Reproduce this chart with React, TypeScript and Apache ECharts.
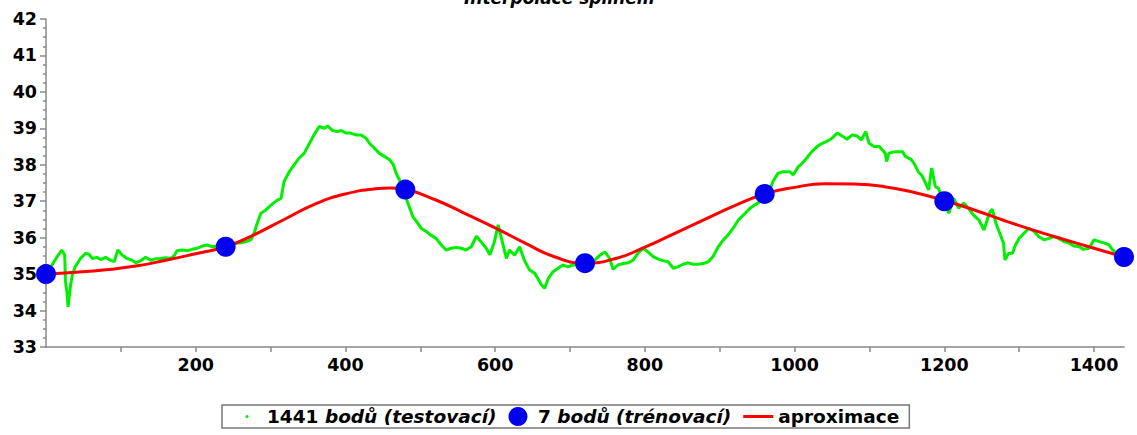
import React, { useEffect, useRef } from "react";
import * as echarts from "echarts";

const FONT = "'DejaVu Sans', 'Liberation Sans', Arial, sans-serif";

const titleText = "Interpolace splinem";
const testName = "1441 bodů (testovací)";
const trainName = "7 bodů (trénovací)";
const approxName = "aproximace";

const xTickValues = [100, 200, 300, 400, 500, 600, 700, 800, 900, 1000, 1100, 1200, 1300, 1400];
const xLabelValues = [200, 400, 600, 800, 1000, 1200, 1400];

// test data (green)
const testX = [
  3, 8, 14, 21, 25, 26, 28, 29.5, 32.6, 35, 39, 46, 53, 57, 62, 68, 73, 79.5, 86, 91,
  96, 102, 108, 115, 120, 126, 133, 140, 146, 153, 160, 166.5, 171, 175, 182, 189, 195, 202, 209, 215,
  222, 230, 240, 247, 253, 260, 267, 273.5, 278, 282, 287, 293.6, 302, 309, 314, 318, 325, 331.5, 338, 345,
  352, 358, 365, 372, 376, 383, 389.5, 394, 401, 407, 414, 421, 427.5, 432, 438.5, 445, 452, 459, 464, 467.6,
  472, 477, 481, 485, 490, 496.5, 501, 508, 514, 521, 528, 534.5, 541, 548, 555, 561, 568, 575, 581, 588,
  593, 599, 604, 610, 615, 619, 626, 632.6, 639, 646, 653, 657, 662, 666, 671, 677, 684, 690.6, 697, 704,
  712, 720, 727, 733, 740, 746.5, 753, 757.5, 764, 771, 778, 784, 791, 798, 804, 811, 818, 824, 831, 838,
  844, 851, 858, 864.5, 871, 878, 884.6, 891, 898, 904.7, 911, 918, 925, 934, 940.5, 947, 954, 960, 967, 971,
  978, 985, 994, 998, 1005, 1010, 1016, 1023, 1030, 1037, 1043, 1050, 1057, 1063.5, 1070, 1077, 1083.6, 1089, 1095, 1099.5,
  1106, 1113, 1121, 1123, 1126, 1135, 1144, 1148, 1156, 1160.6, 1165, 1169.5, 1174, 1179, 1183, 1188, 1192, 1197, 1200, 1206,
  1212.5, 1219, 1226, 1232, 1239, 1246, 1253, 1260, 1264, 1269, 1274, 1279, 1281, 1286, 1291, 1295, 1300, 1306.5, 1313, 1320,
  1326, 1333, 1340, 1346, 1353, 1360, 1366, 1373, 1380, 1386, 1393, 1400, 1407, 1414, 1420, 1425, 1432, 1440,
];
const testY = [
  35.05, 35.25, 35.45, 35.66, 35.52, 34.8, 34.5, 34.1, 34.66, 34.97, 35.2, 35.43, 35.57, 35.55, 35.43, 35.46, 35.4, 35.46, 35.38, 35.34,
  35.66, 35.52, 35.43, 35.38, 35.31, 35.36, 35.46, 35.38, 35.42, 35.43, 35.45, 35.43, 35.5, 35.64, 35.66, 35.64, 35.68, 35.71, 35.77, 35.8,
  35.75, 35.78, 35.8, 35.82, 35.85, 35.86, 35.89, 35.94, 36.12, 36.39, 36.67, 36.76, 36.92, 37.03, 37.08, 37.54, 37.81, 38.0, 38.18, 38.32,
  38.59, 38.82, 39.05, 39.0, 39.07, 38.94, 38.91, 38.94, 38.87, 38.87, 38.82, 38.82, 38.73, 38.59, 38.46, 38.32, 38.23, 38.14, 38.0, 37.77,
  37.59, 37.35, 37.08, 36.86, 36.58, 36.4, 36.26, 36.17, 36.07, 35.98, 35.8, 35.66, 35.71, 35.73, 35.71, 35.66, 35.75, 36.04, 35.89, 35.71,
  35.53, 35.89, 36.35, 35.85, 35.43, 35.66, 35.52, 35.75, 35.38, 35.11, 35.02, 34.88, 34.7, 34.61, 34.88, 35.06, 35.16, 35.25, 35.2, 35.25,
  35.28, 35.3, 35.33, 35.38, 35.52, 35.61, 35.43, 35.13, 35.25, 35.29, 35.31, 35.38, 35.58, 35.71, 35.61, 35.48, 35.41, 35.37, 35.34, 35.16,
  35.2, 35.27, 35.31, 35.27, 35.27, 35.29, 35.34, 35.48, 35.75, 35.94, 36.07, 36.26, 36.49, 36.67, 36.81, 36.9, 36.99, 37.12, 37.31, 37.54,
  37.77, 37.81, 37.81, 37.72, 37.95, 38.04, 38.18, 38.36, 38.5, 38.59, 38.64, 38.73, 38.87, 38.79, 38.7, 38.82, 38.79, 38.68, 38.91, 38.59,
  38.5, 38.5, 38.32, 38.09, 38.32, 38.36, 38.36, 38.23, 38.14, 38.0, 37.81, 37.72, 37.54, 37.31, 37.91, 37.4, 37.36, 37.1, 37.0, 36.67,
  37.08, 36.81, 36.95, 36.81, 36.62, 36.49, 36.21, 36.67, 36.78, 36.39, 36.12, 35.85, 35.39, 35.57, 35.57, 35.8, 35.98, 36.12, 36.26, 36.17,
  36.03, 35.94, 35.98, 36.03, 35.98, 35.89, 35.86, 35.77, 35.75, 35.68, 35.71, 35.94, 35.89, 35.85, 35.8, 35.66, 35.55, 35.47,
];

// training points (blue)
const trainX = [0, 240, 480, 720, 960, 1200, 1440];
const trainY = [35.0, 35.75, 37.32, 35.3, 37.2, 37.0, 35.47];

// approximation curve (red)
const approxX = [
  0, 40, 80, 120, 160, 200, 240, 280, 320, 360, 400, 440, 460, 480, 520, 560, 600, 640, 680, 720,
  760, 800, 840, 880, 920, 960, 1000, 1040, 1080, 1120, 1160, 1200, 1240, 1280, 1320, 1360, 1400, 1440,
];
const approxY = [
  35.0, 35.05, 35.12, 35.22, 35.38, 35.56, 35.75, 36.1, 36.52, 36.93, 37.2, 37.34, 37.36, 37.32, 37.04, 36.66, 36.27, 35.85, 35.47, 35.3,
  35.42, 35.74, 36.12, 36.5, 36.88, 37.2, 37.38, 37.48, 37.47, 37.4, 37.24, 37.02, 36.76, 36.47, 36.2, 35.95, 35.71, 35.47,
];

const zip = (xs: number[], ys: number[]) => xs.map((x, i) => [x, ys[i]]);

export default function App() {
  const ref = useRef<HTMLDivElement>(null);

  useEffect(() => {
    if (!ref.current) return;
    const chart = echarts.init(ref.current, undefined, { renderer: "svg" });
    const labelStyle = {
      fontFamily: FONT,
      fontSize: 17.5,
      fontWeight: "bold" as const,
      color: "#000",
    };
    const legendStyle = { ...labelStyle, fontSize: 18.5 };
    chart.setOption({
      animation: false,
      backgroundColor: "#fff",
      title: {
        text: titleText,
        left: 464,
        top: -11,
        padding: 0,
        textStyle: { ...labelStyle, fontSize: 17, fontStyle: "italic" },
      },
      grid: { left: 46, right: 13, top: 19, bottom: 88, containLabel: false },
      legend: {
        left: 222,
        top: 405,
        padding: [2, 10, 2, 10],
        borderColor: "#777",
        borderWidth: 1.5,
        itemGap: 12,
        itemWidth: 30,
        itemHeight: 19,
        textStyle: {
          ...legendStyle,
          rich: {
            i: { ...legendStyle, fontStyle: "italic" },
          },
        },
        formatter: (name: string) => {
          const m = name.match(/^(\d+ )(.*)$/);
          return m ? `${m[1]}{i|${m[2]}}` : name;
        },
        data: [
          {
            name: testName,
            icon: "path://M0 0M30 19M13.5 9.5a1.5 1.5 0 1 0 3 0a1.5 1.5 0 1 0 -3 0",
          },
          { name: trainName, icon: "circle" },
          { name: approxName, icon: "path://M0 0M30 19M0 8h30v3h-30z" },
        ],
      },
      xAxis: {
        type: "value",
        min: 0,
        max: 1440,
        interval: 100,
        axisLine: { lineStyle: { color: "#888", width: 1.5 } },
        axisTick: {
          show: true,
          length: 5,
          customValues: xTickValues,
          lineStyle: { color: "#888", width: 1.5 },
        },
        axisLabel: {
          ...labelStyle,
          margin: 9,
          customValues: xLabelValues,
          formatter: (v: number) => String(v),
        },
        splitLine: { show: false },
      },
      yAxis: {
        type: "value",
        min: 33,
        max: 42,
        interval: 1,
        axisLine: { show: true, lineStyle: { color: "#888", width: 1.5 } },
        axisTick: { show: true, length: 6, lineStyle: { color: "#888", width: 1.5 } },
        minorTick: { show: true, splitNumber: 4, length: 3, lineStyle: { color: "#888", width: 1.5 } },
        axisLabel: { ...labelStyle, margin: 9 },
        splitLine: { show: false },
      },
      series: [
        {
          name: testName,
          type: "line",
          data: zip(testX, testY),
          symbol: "none",
          lineStyle: { color: "#00f000", width: 3 },
          itemStyle: { color: "#00f000" },
          z: 2,
        },
        {
          name: approxName,
          type: "line",
          data: zip(approxX, approxY),
          symbol: "none",
          smooth: true,
          lineStyle: { color: "#ff0000", width: 3 },
          itemStyle: { color: "#ff0000" },
          z: 3,
        },
        {
          name: trainName,
          type: "scatter",
          data: zip(trainX, trainY),
          symbol: "circle",
          symbolSize: 20,
          itemStyle: { color: "#0000ee", opacity: 1 },
          z: 4,
        },
      ],
    });
    return () => chart.dispose();
  }, []);

  return (
    <div
      ref={ref}
      style={{ position: "absolute", left: 0, top: 0, width: 1137, height: 435 }}
    />
  );
}
